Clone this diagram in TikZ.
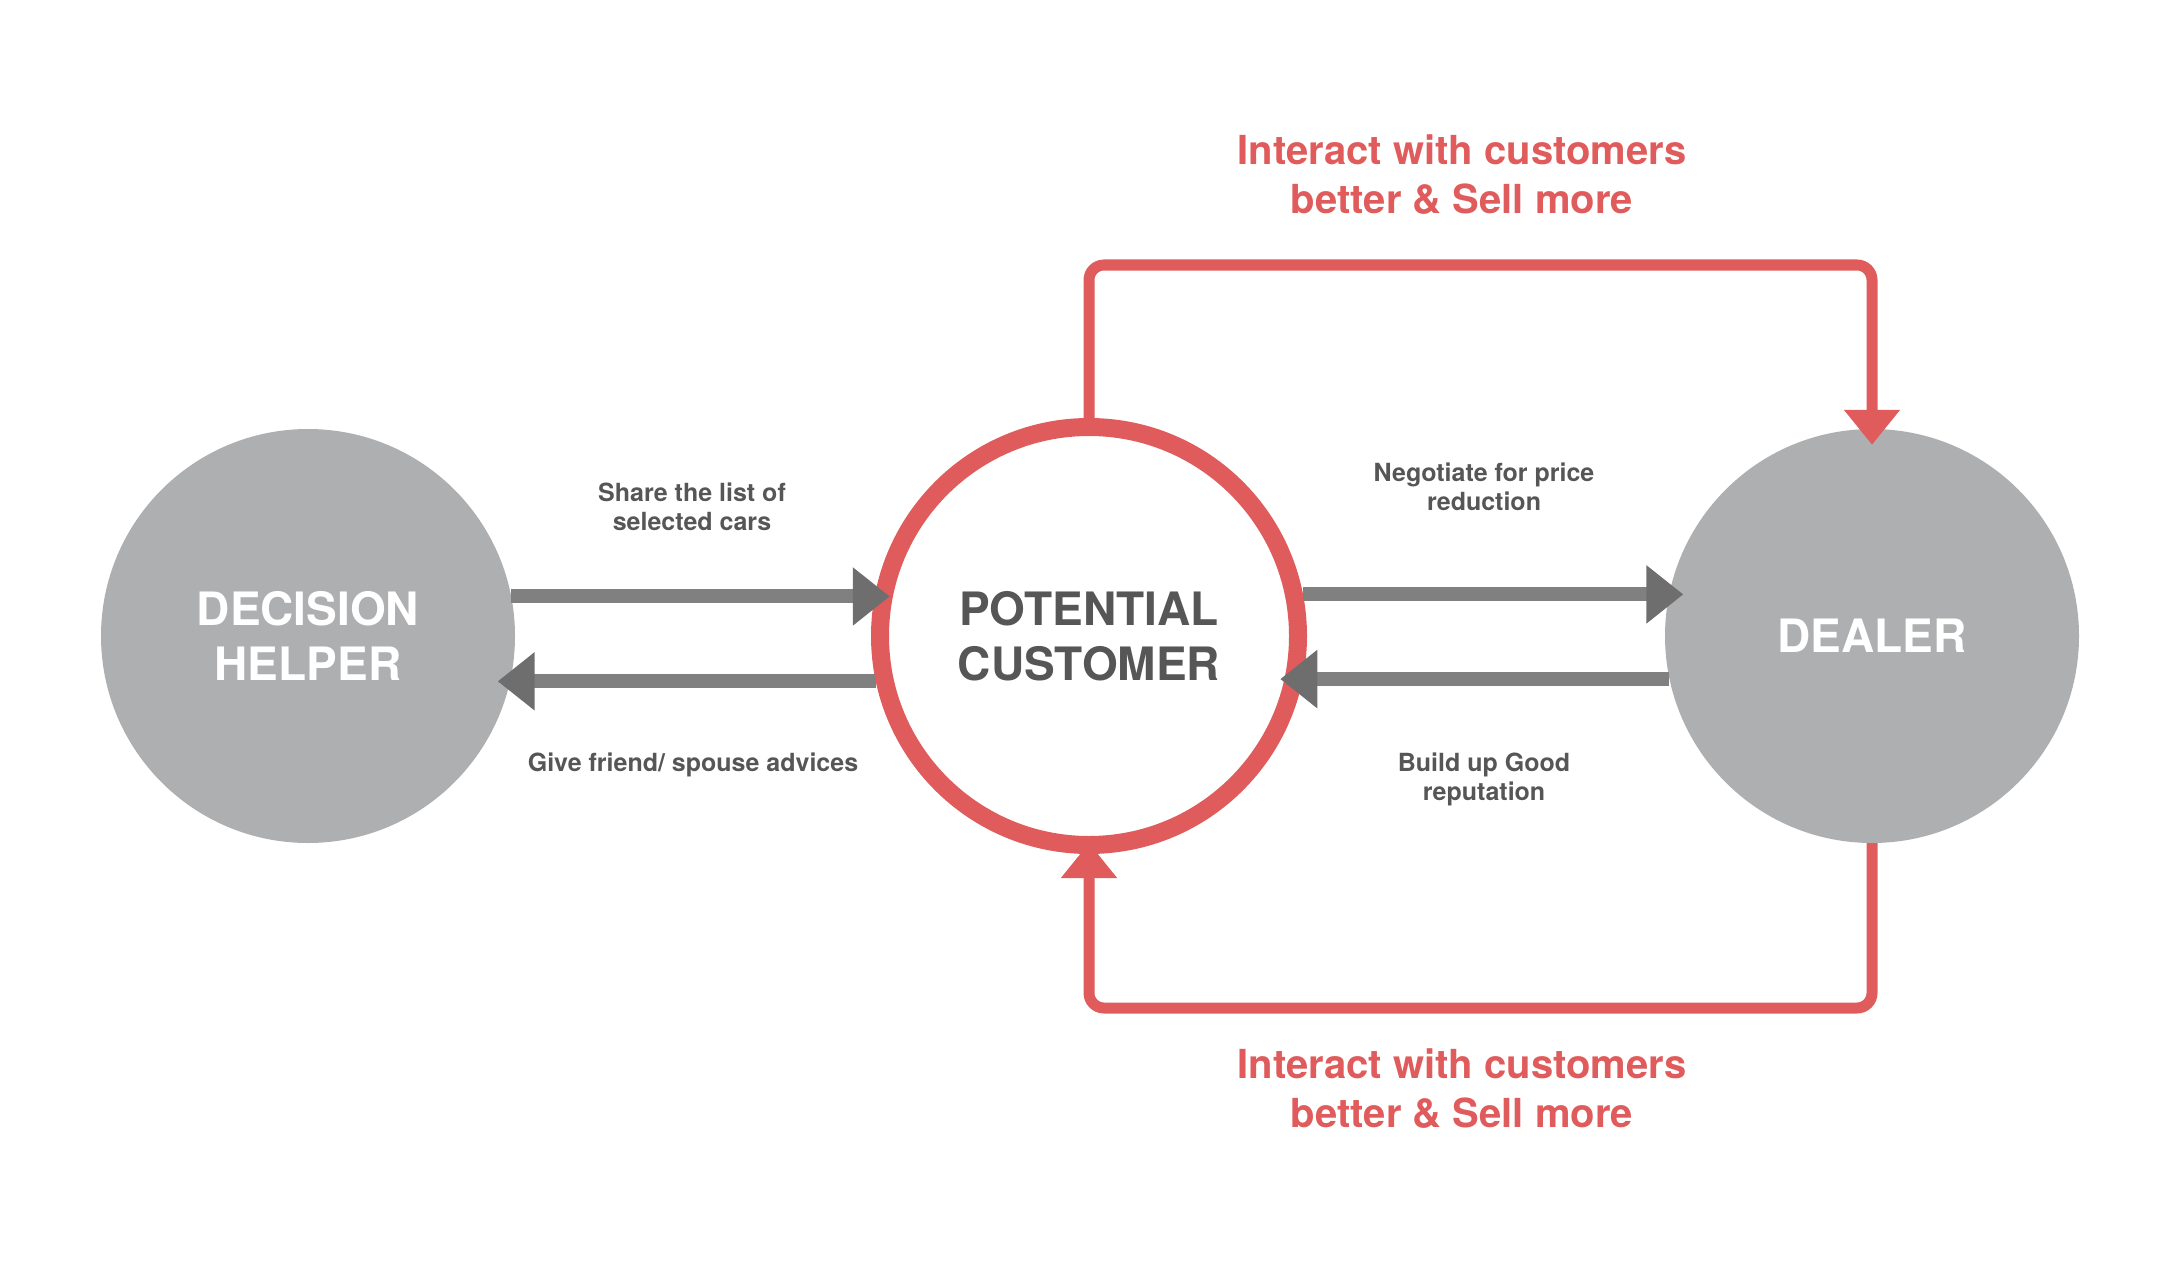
\documentclass[tikz,border=0pt]{standalone}
\usepackage{fontspec}
\setmainfont{TeX Gyre Heros}
\usepackage{tikz}
\usetikzlibrary{arrows.meta}
\usetikzlibrary{backgrounds}
\usetikzlibrary{calc}

\definecolor{flowred}{HTML}{E05C5C}
\definecolor{discgray}{HTML}{AEAFB0}
\definecolor{shaftgray}{HTML}{808080}
\definecolor{tipgray}{HTML}{6E6E6E}
\definecolor{labelgray}{HTML}{565656}

\begin{document}
\begin{tikzpicture}[x=1pt, y=-1pt,
    actor/.style={circle, fill=discgray, minimum size=414pt, inner sep=0pt, text=white, font=\fontsize{46}{55}\selectfont\bfseries, align=center},
    hub/.style={circle, draw=flowred, line width=18pt, fill=white, minimum size=418pt, inner sep=0pt, text=labelgray, font=\fontsize{46}{55}\selectfont\bfseries, align=center},
    flow/.style={draw=shaftgray, line width=14pt, -{Triangle[length=37pt, width=56pt, color=tipgray]}},
    feedback/.style={draw=flowred, line width=11pt, rounded corners=15pt, -{Triangle[length=35pt, width=54pt]}},
    note/.style={text=labelgray, font=\fontsize{25}{29}\selectfont\bfseries, align=center},
    slogan/.style={text=flowred, font=\fontsize{40}{49}\selectfont\bfseries, align=center}]
        \useasboundingbox (0,0) rectangle (2183,1273);

        %circles
        \node[actor] (helper) at (308,636) {DECISION\\HELPER};
        \node[hub] (customer) at (1089,636) {POTENTIAL\\CUSTOMER};
        \node[actor] (dealer) at (1872,636) {DEALER};

        %gray arrows
        \draw[flow] (helper.11.71) -- ($(helper.11.71 -| customer.168.89)+(14,0)$);
        \draw[flow] (customer.192.18) -- ($(customer.192.18 -| helper.-12.84)+(-13,0)$);
        \draw[flow] (customer.11.11) -- ($(customer.11.11 -| dealer.168.29)+(14,0)$);
        \draw[flow] (dealer.192.84) -- ($(dealer.192.84 -| customer.-12.18)+(-22,0)$);

        %red loops
        \coordinate (toprail) at (1480,265);
        \coordinate (bottomrail) at (1480,1008);
        \draw[feedback] (customer.north) |- (toprail) -| ([yshift=-16pt]dealer.north);
        \begin{scope}[on background layer]
            \draw[feedback] (dealer.south) |- (bottomrail) -| ([yshift=11pt]customer.south);
        \end{scope}

        %labels
        \node[note] (share) at (692,507) {Share the list of\\selected cars};
        \node[note] (give) at (693,765) {Give friend/ spouse advices};
        \node[note] (negotiate) at (1484,487) {Negotiate for price\\reduction};
        \node[note] (build) at (1484,779) {Build up Good\\reputation};
        \node[slogan] (topnote) at (1462,175) {Interact with customers\\better \& Sell more};
        \node[slogan] (bottomnote) at (1462,1089) {Interact with customers\\better \& Sell more};
    \end{tikzpicture}
\end{document}
